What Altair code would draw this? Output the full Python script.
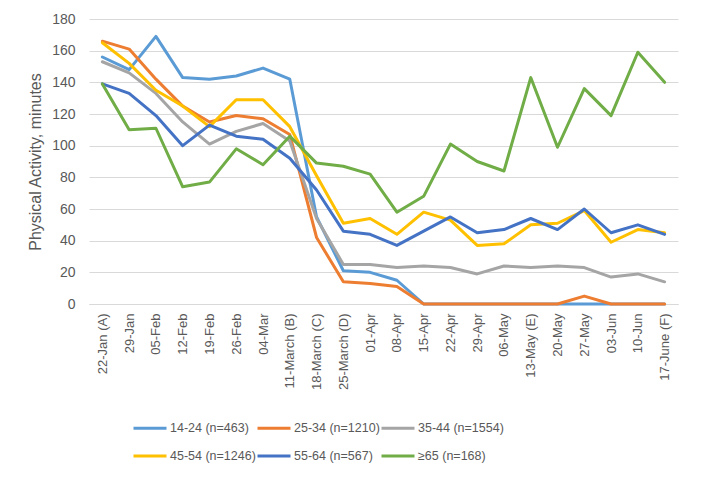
import altair as alt
import pandas as pd

dates = ["22-Jan (A)", "29-Jan", "05-Feb", "12-Feb", "19-Feb", "26-Feb", "04-Mar",
         "11-March (B)", "18-March (C)", "25-March (D)", "01-Apr", "08-Apr", "15-Apr",
         "22-Apr", "29-Apr", "06-May", "13-May (E)", "20-May", "27-May", "03-Jun",
         "10-Jun", "17-June (F)"]

series_names = ["14-24 (n=463)", "25-34 (n=1210)", "35-44 (n=1554)",
                "45-54 (n=1246)", "55-64 (n=567)", "≥65 (n=168)"]
series_colors = ["#5B9BD5", "#ED7D31", "#A5A5A5", "#FFC000", "#4472C4", "#70AD47"]

s_14_24 = [156, 148, 169, 143, 142, 144, 149, 142, 55, 21, 20, 15, 0, 0, 0, 0, 0, 0, 0, 0, 0, 0]
s_25_34 = [166, 161, 142, 125, 115, 119, 117, 107, 42, 14, 13, 11, 0, 0, 0, 0, 0, 0, 5, 0, 0, 0]
s_35_44 = [153, 146, 133, 115, 101, 109, 114, 103, 54, 25, 25, 23, 24, 23, 19, 24, 23, 24, 23, 17, 19, 14]
s_45_54 = [165, 152, 135, 125, 112, 129, 129, 112, 81, 51, 54, 44, 58, 53, 37, 38, 50, 51, 59, 39, 47, 45]
s_55_64 = [139, 133, 119, 100, 113, 106, 104, 92, 72, 46, 44, 37, 46, 55, 45, 47, 54, 47, 60, 45, 50, 44]
s_65 = [139, 110, 111, 74, 77, 98, 88, 106, 89, 87, 82, 58, 68, 101, 90, 84, 143, 99, 136, 119, 159, 140]

all_series = [s_14_24, s_25_34, s_35_44, s_45_54, s_55_64, s_65]

rows = []
for name, vals in zip(series_names, all_series):
    for d, v in zip(dates, vals):
        rows.append({"date": d, "group": name, "value": v})
df = pd.DataFrame(rows)

FONT = "Liberation Sans"
TXT = "#595959"

chart = alt.Chart(df).mark_line(strokeWidth=3, strokeJoin="round", strokeCap="round").encode(
    x=alt.X("date:N", sort=dates, title=None,
            scale=alt.Scale(type="point", padding=0.5),
            axis=alt.Axis(labelAngle=-90, labelFontSize=13, labelColor=TXT, labelFont=FONT,
                          ticks=False, tickSize=0, labelPadding=9, domain=True,
                          domainColor="#d9d9d9", domainWidth=1, grid=False)),
    y=alt.Y("value:Q", title="Physical Activity, minutes",
            scale=alt.Scale(domain=[0, 180], nice=False),
            axis=alt.Axis(values=list(range(0, 181, 20)), labelFontSize=14, labelColor=TXT,
                          labelFont=FONT, ticks=False, tickSize=0, labelPadding=14,
                          domain=False, grid=True, gridColor="#d9d9d9", gridWidth=1,
                          titleFontSize=16, titleFont=FONT, titleColor=TXT,
                          titleFontWeight="normal", titleAlign="center",
                          titleBaseline="middle", titleX=-54, titleY=142.5)),
    color=alt.Color("group:N", sort=series_names,
                    scale=alt.Scale(domain=series_names, range=series_colors),
                    legend=alt.Legend(title=None, orient="none", legendX=43, legendY=391,
                                      direction="horizontal", columns=3,
                                      symbolType="stroke", symbolSize=1089,
                                      symbolStrokeWidth=3, labelFontSize=12.5,
                                      labelColor=TXT, labelFont=FONT, labelOffset=2,
                                      columnPadding=-6, rowPadding=3)),
).properties(
    width=589, height=285,
    autosize=alt.AutoSizeParams(type="none"),
    padding={"left": 81, "top": 11, "right": 15, "bottom": 170},
).configure_view(stroke=None)

chart.save("out.html", embed_options={"renderer": "svg", "actions": False})
